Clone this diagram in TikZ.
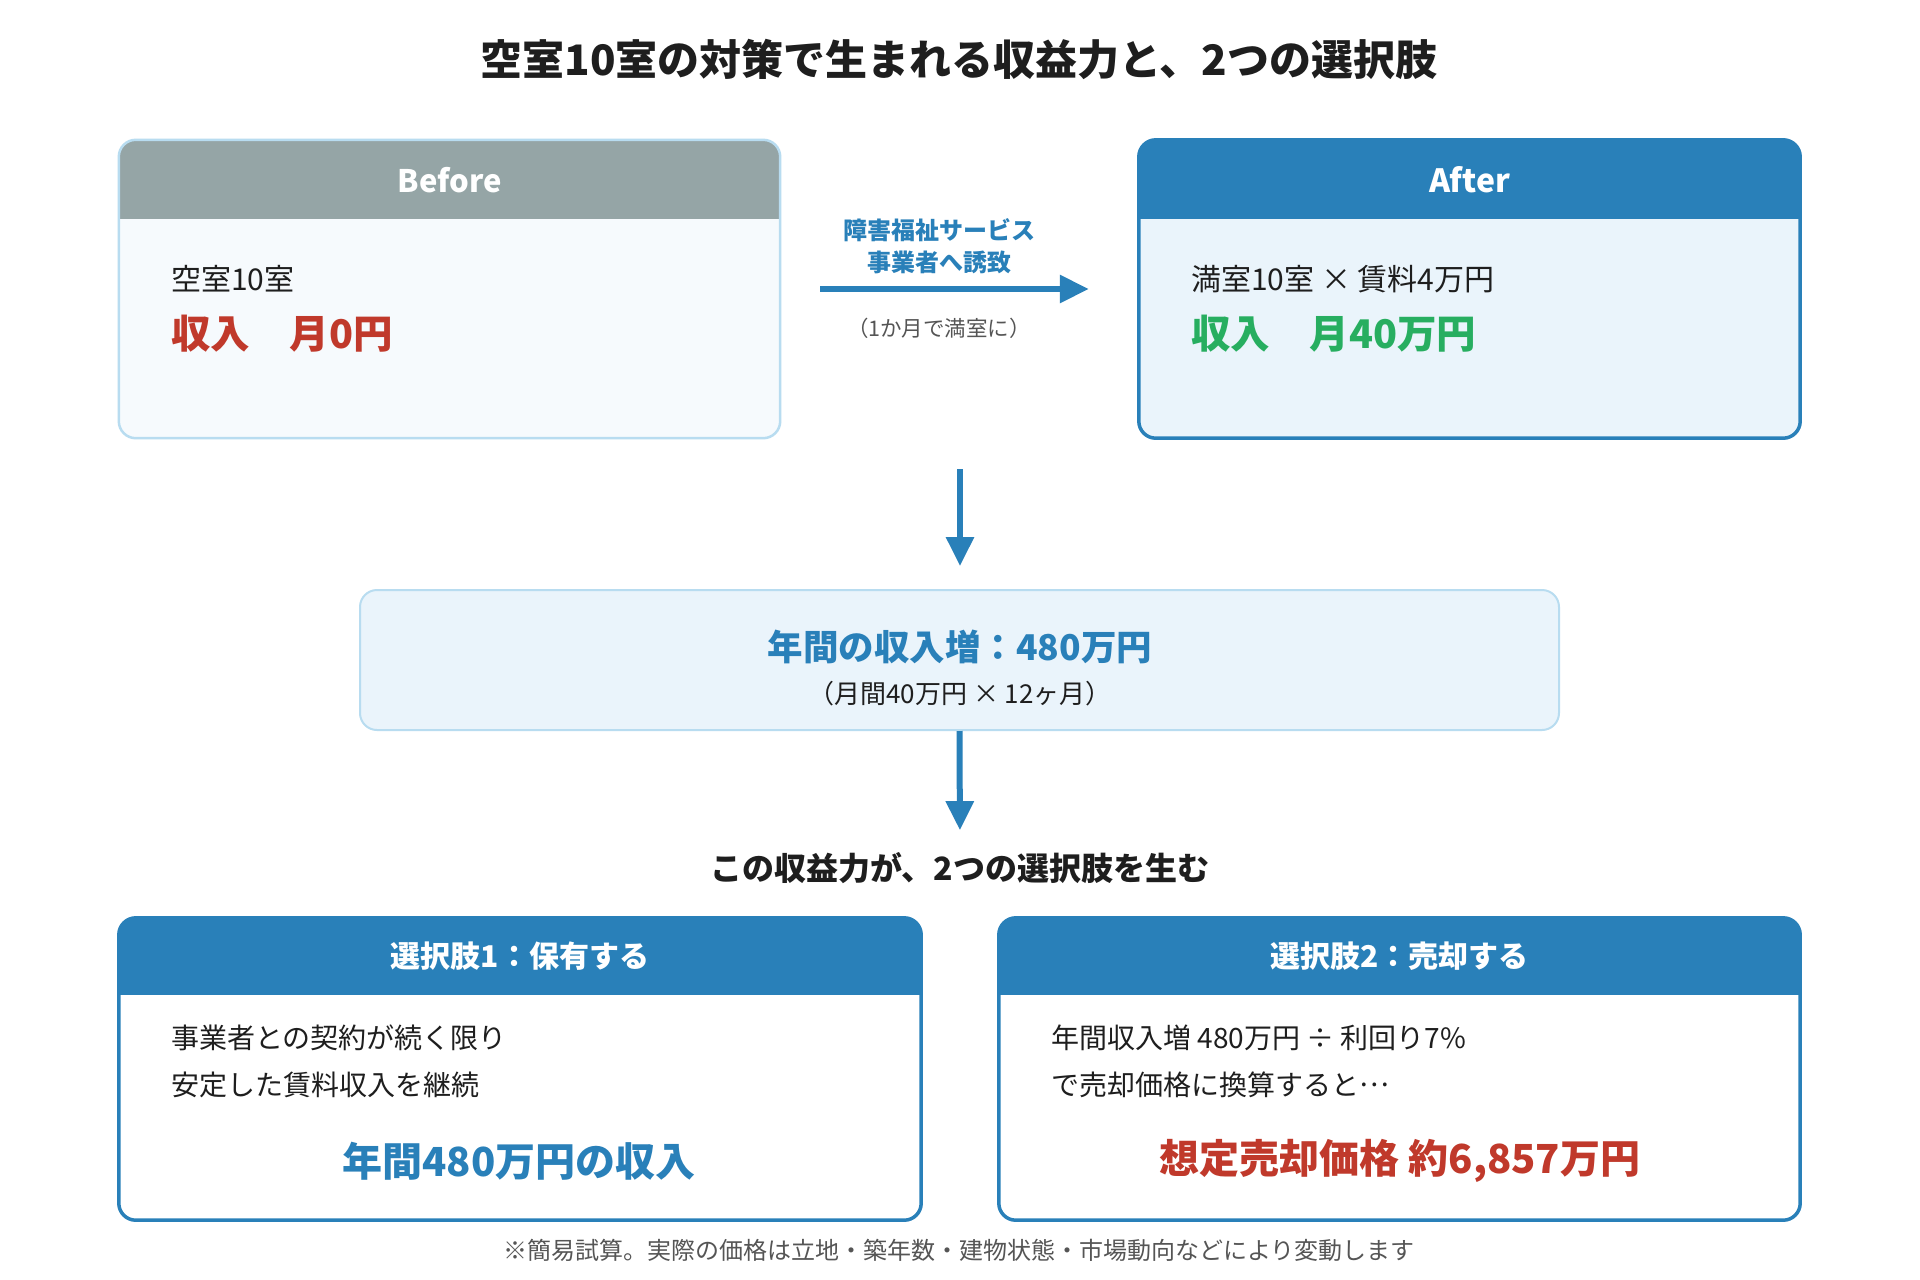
\documentclass[tikz,border=0pt]{standalone}
\usepackage{fontspec}
\setmainfont{Noto Sans CJK JP}
\usetikzlibrary{arrows.meta, positioning}

\definecolor{mainblue}{HTML}{2980B9}
\definecolor{headgray}{HTML}{95A5A6}
\definecolor{gainred}{HTML}{C0392B}
\definecolor{gaingreen}{HTML}{27AE60}
\definecolor{paleblue}{HTML}{EAF4FB}
\definecolor{palegray}{HTML}{F6FAFD}
\definecolor{lineblue}{HTML}{B8DCF0}
\definecolor{inkdark}{HTML}{1E1E1E}
\definecolor{inkgray}{HTML}{555555}

\newcommand{\fsz}[1]{\fontsize{#1}{#1}\selectfont}

\begin{document}
\begin{tikzpicture}[x=1pt, y=-1pt,
  card/.style={rectangle, rounded corners=17pt, inner sep=0pt},
  headtxt/.style={text=white, inner sep=0pt},
  body/.style={anchor=west, inner sep=0pt, text=inkdark, align=left},
  arr/.style={mainblue, line width=6pt, -{Triangle[length=29pt,width=27pt]}}]
\useasboundingbox[fill=white] (0,0) rectangle (1920,1280);

% Title
\node[text=inkdark, font=\fsz{42}\bfseries] (title) at (959,59) {空室10室の対策で生まれる収益力と、2つの選択肢};

% Before / After
\node[card, fill=palegray, minimum width=661pt, minimum height=298pt] (before) at (449.5,289) {};
\node[card, fill=paleblue, minimum width=661pt, minimum height=298pt] (after) at (1469.5,289) {};
% Choices
\node[card, fill=white, minimum width=802pt, minimum height=302pt] (hold) at (520,1069) {};
\node[card, fill=white, minimum width=801pt, minimum height=302pt] (sell) at (1399.5,1069) {};

% header bands
\foreach \b/\c/\h in {before/headgray/79, after/mainblue/79, hold/mainblue/77, sell/mainblue/77} {
  \begin{scope}
    \clip[rounded corners=17pt] (\b.north west) rectangle (\b.south east);
    \fill[\c] (\b.north west) rectangle ([yshift=-\h pt]\b.north east);
  \end{scope}
}
\draw[lineblue, line width=2.5pt, rounded corners=17pt] (before.north west) rectangle (before.south east);
\foreach \b in {after, hold, sell}
  \draw[mainblue, line width=3.5pt, rounded corners=17pt] (\b.north west) rectangle (\b.south east);

\node[headtxt, font=\fsz{31}\bfseries] (beforehead) at ([yshift=-40pt]before.north) {Before};
\node[headtxt, font=\fsz{32}\bfseries] (afterhead) at ([yshift=-40pt]after.north) {After};
\node[headtxt, font=\fsz{30}\bfseries] (holdhead) at ([yshift=-38pt]hold.north) {選択肢1：保有する};
\node[headtxt, font=\fsz{30}\bfseries] (sellhead) at ([yshift=-38pt]sell.north) {選択肢2：売却する};

\node[body, font=\fsz{30}] (emptyrooms) at (171,279) {空室10室};
\node[body, font=\fsz{39.5}\bfseries, text=gainred] (zeroincome) at (171,334) {収入　月0円};
\node[body, font=\fsz{30}] (fullrooms) at (1191,279) {満室10室 × 賃料4万円};
\node[body, font=\fsz{39.5}\bfseries, text=gaingreen] (fullincome) at (1191,334) {収入　月40万円};

% Invite arrow
\draw[arr] ([xshift=40pt]before.east) -- ([xshift=-50pt]after.west);
\node[align=center, text=mainblue, font=\fontsize{24}{32}\selectfont\bfseries] (lure) at (939,246) {障害福祉サービス\\事業者へ誘致};
\node[text=inkgray, font=\fsz{21.5}] (month) at (939,328) {（1か月で満室に）};

% Annual gain
\node[card, fill=paleblue, draw=lineblue, line width=2pt, minimum width=1199pt, minimum height=140pt] (gain) at (959.5,660) {};
\node[text=mainblue, font=\fsz{35.5}\bfseries] (gaintitle) at (960,647) {年間の収入増：480万円};
\node[text=inkdark, font=\fsz{26}] (gaincalc) at (960,694) {（月間40万円 × 12ヶ月）};

\coordinate (fork) at (960,469);
\draw[arr, shorten >=23pt] (fork) -- (fork |- gain.north);

\node[text=inkdark, font=\fsz{32}\bfseries, inner sep=0pt] (choice) at (960,868) {この収益力が、2つの選択肢を生む};
\draw[arr, shorten >=22pt] (gain.south) -- (choice.north);

% Choice 1
\node[body, font=\fontsize{28}{47}\selectfont] (holdtext) at (171,1061.5) {事業者との契約が続く限り\\安定した賃料収入を継続};
\node[text=mainblue, font=\fsz{40}\bfseries] (holdresult) at (519,1161) {年間480万円の収入};

% Choice 2
\node[body, font=\fontsize{28}{47}\selectfont] (selltext) at (1051,1061.5) {年間収入増 480万円 ÷ 利回り7\%\\で売却価格に換算すると\raisebox{.32em}{…}};
\node[text=gainred, font=\fsz{40}\bfseries] (sellresult) at (1400,1161) {想定売却価格 約6,857万円};

\node[text=inkgray, font=\fsz{24}] (note) at (959,1250) {※簡易試算。実際の価格は立地・築年数・建物状態・市場動向などにより変動します};
\end{tikzpicture}
\end{document}
